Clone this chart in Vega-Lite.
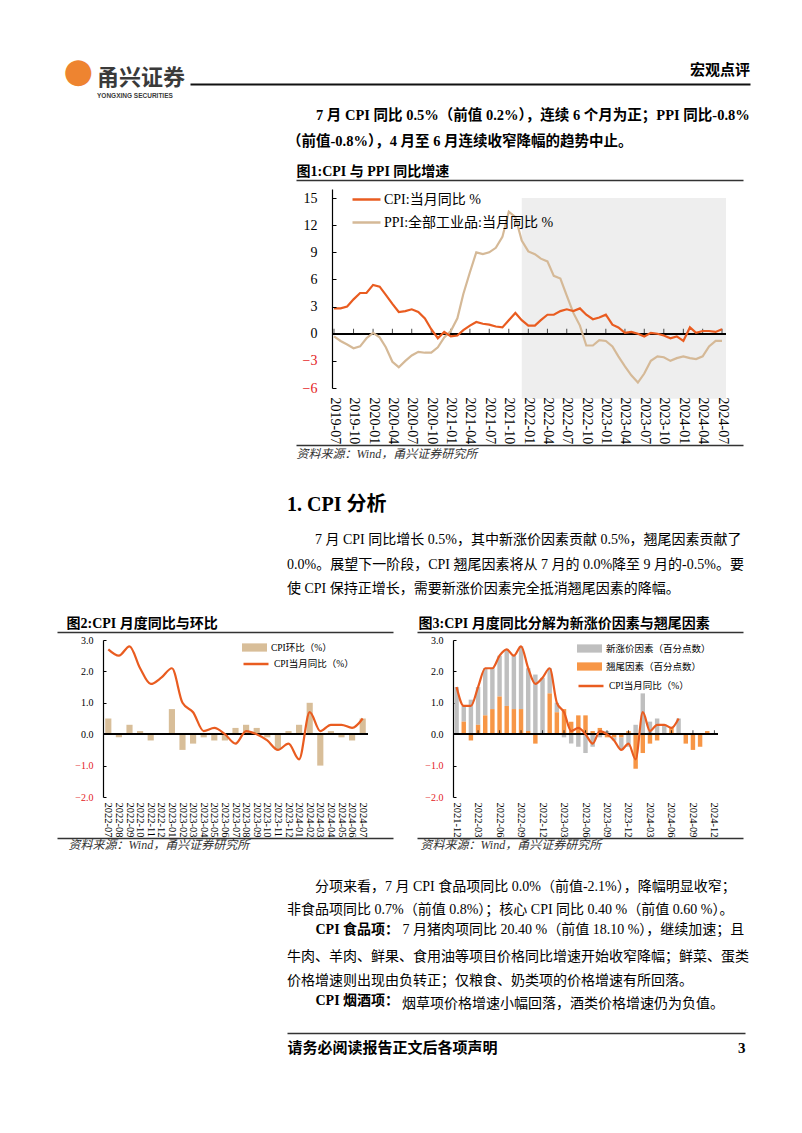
{
  "$schema": "https://vega.github.io/schema/vega-lite/v6.json",
  "background": "#ffffff",
  "padding": 0,
  "spacing": 0,
  "bounds": "flush",
  "resolve": {
    "scale": {"x": "independent", "y": "independent", "color": "independent", "fill": "independent", "stroke": "independent"},
    "legend": {"color": "independent", "fill": "independent", "stroke": "independent"}
  },
  "config": {
    "view": {"stroke": null},
    "title": {"orient": "bottom", "anchor": "start", "frame": "group", "offset": 0, "font": "Liberation Serif, Noto Sans CJK SC", "fontSize": 14, "fontWeight": "normal", "color": "#000000", "subtitleFont": "Liberation Serif, Noto Sans CJK SC", "subtitleColor": "#000000"},
    "axis": {"labelFont": "Liberation Serif", "titleFont": "Liberation Serif, Noto Sans CJK SC", "grid": false, "domainColor": "#000000", "tickColor": "#000000", "labelColor": "#000000", "titleColor": "#000000", "labelOverlap": false},
    "legend": {"labelFont": "Liberation Serif, Noto Sans CJK SC", "padding": 0, "labelLimit": 400, "labelColor": "#000000"}
  },
  "datasets": {
    "c1": [
      {"m":"2019-07","cpi":2.8,"ppi":-0.3},{"m":"2019-08","cpi":2.8,"ppi":-0.8},{"m":"2019-09","cpi":3.0,"ppi":-1.2},{"m":"2019-10","cpi":3.8,"ppi":-1.6},{"m":"2019-11","cpi":4.5,"ppi":-1.4},{"m":"2019-12","cpi":4.5,"ppi":-0.5},
      {"m":"2020-01","cpi":5.4,"ppi":0.1},{"m":"2020-02","cpi":5.2,"ppi":-0.4},{"m":"2020-03","cpi":4.3,"ppi":-1.5},{"m":"2020-04","cpi":3.3,"ppi":-3.1},{"m":"2020-05","cpi":2.4,"ppi":-3.7},{"m":"2020-06","cpi":2.5,"ppi":-3.0},
      {"m":"2020-07","cpi":2.7,"ppi":-2.4},{"m":"2020-08","cpi":2.4,"ppi":-2.0},{"m":"2020-09","cpi":1.7,"ppi":-2.1},{"m":"2020-10","cpi":0.5,"ppi":-2.1},{"m":"2020-11","cpi":-0.5,"ppi":-1.5},{"m":"2020-12","cpi":0.2,"ppi":-0.4},
      {"m":"2021-01","cpi":-0.3,"ppi":0.3},{"m":"2021-02","cpi":-0.2,"ppi":1.7},{"m":"2021-03","cpi":0.4,"ppi":4.4},{"m":"2021-04","cpi":0.9,"ppi":6.8},{"m":"2021-05","cpi":1.3,"ppi":9.0},{"m":"2021-06","cpi":1.1,"ppi":8.8},
      {"m":"2021-07","cpi":1.0,"ppi":9.0},{"m":"2021-08","cpi":0.8,"ppi":9.5},{"m":"2021-09","cpi":0.7,"ppi":10.7},{"m":"2021-10","cpi":1.5,"ppi":13.5},{"m":"2021-11","cpi":2.3,"ppi":12.9},{"m":"2021-12","cpi":1.5,"ppi":10.3},
      {"m":"2022-01","cpi":0.9,"ppi":9.1},{"m":"2022-02","cpi":0.9,"ppi":8.8},{"m":"2022-03","cpi":1.5,"ppi":8.3},{"m":"2022-04","cpi":2.1,"ppi":8.0},{"m":"2022-05","cpi":2.1,"ppi":6.4},{"m":"2022-06","cpi":2.5,"ppi":6.1},
      {"m":"2022-07","cpi":2.7,"ppi":4.2},{"m":"2022-08","cpi":2.5,"ppi":2.3},{"m":"2022-09","cpi":2.8,"ppi":0.9},{"m":"2022-10","cpi":2.1,"ppi":-1.3},{"m":"2022-11","cpi":1.6,"ppi":-1.3},{"m":"2022-12","cpi":1.8,"ppi":-0.7},
      {"m":"2023-01","cpi":2.1,"ppi":-0.8},{"m":"2023-02","cpi":1.0,"ppi":-1.4},{"m":"2023-03","cpi":0.7,"ppi":-2.5},{"m":"2023-04","cpi":0.1,"ppi":-3.6},{"m":"2023-05","cpi":0.2,"ppi":-4.6},{"m":"2023-06","cpi":0.0,"ppi":-5.4},
      {"m":"2023-07","cpi":-0.3,"ppi":-4.4},{"m":"2023-08","cpi":0.1,"ppi":-3.0},{"m":"2023-09","cpi":0.0,"ppi":-2.5},{"m":"2023-10","cpi":-0.2,"ppi":-2.6},{"m":"2023-11","cpi":-0.5,"ppi":-3.0},{"m":"2023-12","cpi":-0.3,"ppi":-2.7},
      {"m":"2024-01","cpi":-0.8,"ppi":-2.5},{"m":"2024-02","cpi":0.7,"ppi":-2.7},{"m":"2024-03","cpi":0.1,"ppi":-2.8},{"m":"2024-04","cpi":0.3,"ppi":-2.5},{"m":"2024-05","cpi":0.3,"ppi":-1.4},{"m":"2024-06","cpi":0.2,"ppi":-0.8},
      {"m":"2024-07","cpi":0.5,"ppi":-0.8}
    ],
    "c2": [
      {"m":"2022-07","mom":0.5,"yoy":2.7},{"m":"2022-08","mom":-0.1,"yoy":2.5},{"m":"2022-09","mom":0.3,"yoy":2.8},{"m":"2022-10","mom":0.1,"yoy":2.1},{"m":"2022-11","mom":-0.2,"yoy":1.6},{"m":"2022-12","mom":0.0,"yoy":1.8},
      {"m":"2023-01","mom":0.8,"yoy":2.1},{"m":"2023-02","mom":-0.5,"yoy":1.0},{"m":"2023-03","mom":-0.3,"yoy":0.7},{"m":"2023-04","mom":-0.1,"yoy":0.1},{"m":"2023-05","mom":-0.2,"yoy":0.2},{"m":"2023-06","mom":-0.2,"yoy":0.0},
      {"m":"2023-07","mom":0.2,"yoy":-0.3},{"m":"2023-08","mom":0.3,"yoy":0.1},{"m":"2023-09","mom":0.2,"yoy":0.0},{"m":"2023-10","mom":-0.1,"yoy":-0.2},{"m":"2023-11","mom":-0.5,"yoy":-0.5},{"m":"2023-12","mom":0.1,"yoy":-0.3},
      {"m":"2024-01","mom":0.3,"yoy":-0.8},{"m":"2024-02","mom":1.0,"yoy":0.7},{"m":"2024-03","mom":-1.0,"yoy":0.1},{"m":"2024-04","mom":0.1,"yoy":0.3},{"m":"2024-05","mom":-0.1,"yoy":0.3},{"m":"2024-06","mom":-0.2,"yoy":0.2},
      {"m":"2024-07","mom":0.5,"yoy":0.5}
    ],
    "c3": [
      {"m":"2021-12","new":1.5,"carry":0.0,"yoy":1.5},{"m":"2022-01","new":0.5,"carry":0.4,"yoy":0.9},{"m":"2022-02","new":1.1,"carry":-0.2,"yoy":0.9},{"m":"2022-03","new":1.2,"carry":0.3,"yoy":1.5},
      {"m":"2022-04","new":1.5,"carry":0.6,"yoy":2.1},{"m":"2022-05","new":1.3,"carry":0.8,"yoy":2.1},{"m":"2022-06","new":1.3,"carry":1.2,"yoy":2.5},{"m":"2022-07","new":1.8,"carry":0.9,"yoy":2.7},
      {"m":"2022-08","new":1.7,"carry":0.8,"yoy":2.5},{"m":"2022-09","new":2.0,"carry":0.8,"yoy":2.8},{"m":"2022-10","new":2.0,"carry":0.1,"yoy":2.1},{"m":"2022-11","new":1.9,"carry":-0.3,"yoy":1.6},
      {"m":"2022-12","new":1.8,"carry":0.0,"yoy":1.8},{"m":"2023-01","new":0.8,"carry":1.3,"yoy":2.1},{"m":"2023-02","new":0.3,"carry":0.7,"yoy":1.0},{"m":"2023-03","new":-0.1,"carry":0.8,"yoy":0.7},
      {"m":"2023-04","new":-0.3,"carry":0.4,"yoy":0.1},{"m":"2023-05","new":-0.4,"carry":0.6,"yoy":0.2},{"m":"2023-06","new":-0.6,"carry":0.6,"yoy":0.0},{"m":"2023-07","new":-0.4,"carry":0.1,"yoy":-0.3},
      {"m":"2023-08","new":-0.1,"carry":0.2,"yoy":0.1},{"m":"2023-09","new":0.1,"carry":-0.1,"yoy":0.0},{"m":"2023-10","new":-0.1,"carry":-0.1,"yoy":-0.2},{"m":"2023-11","new":-0.4,"carry":-0.1,"yoy":-0.5},
      {"m":"2023-12","new":-0.4,"carry":0.1,"yoy":-0.3},{"m":"2024-01","new":0.3,"carry":-1.1,"yoy":-0.8},{"m":"2024-02","new":1.3,"carry":-0.6,"yoy":0.7},{"m":"2024-03","new":0.4,"carry":-0.3,"yoy":0.1},
      {"m":"2024-04","new":0.5,"carry":-0.2,"yoy":0.3},{"m":"2024-05","new":0.3,"carry":0.0,"yoy":0.3},{"m":"2024-06","new":0.0,"carry":0.2,"yoy":0.2},{"m":"2024-07","new":0.5,"carry":0.0,"yoy":0.5},
      {"m":"2024-08","new":null,"carry":-0.3,"yoy":null},{"m":"2024-09","new":null,"carry":-0.5,"yoy":null},{"m":"2024-10","new":null,"carry":-0.4,"yoy":null},{"m":"2024-11","new":null,"carry":0.1,"yoy":null},
      {"m":"2024-12","new":null,"carry":null,"yoy":null}
    ]
  },
  "vconcat": [
    {"width": 802, "height": 84, "data": {"values": []}, "mark": "point",
     "title": {"text": "宏观点评", "anchor": "end", "dx": -52, "dy": -25, "fontSize": 15, "fontWeight": "bold", "font": "Noto Sans CJK SC"}},
    {"width": 802, "height": 2, "data": {"values": []}, "mark": "point",
     "encoding": {"x": {"field": "v", "type": "quantitative", "scale": {"domain": [0, 1], "range": [190, 750]},
       "axis": {"orient": "top", "domain": true, "domainColor": "#111111", "domainWidth": 2, "ticks": false, "labels": false,
                "title": "●", "titleX": 63, "titleY": -30, "titleAlign": "left", "titleBaseline": "top", "titleFont": "DejaVu Sans", "titleFontSize": 34, "titleFontWeight": "normal", "titleColor": "#EE8430"}}},
     "title": {"text": "甬兴证券", "subtitle": "YONGXING SECURITIES", "dx": 97, "dy": -24, "fontSize": 22, "fontWeight": "bold", "font": "Noto Sans CJK SC", "color": "#3a3a3a", "subtitleFont": "Liberation Sans", "subtitleFontSize": 6.5, "subtitleFontWeight": "bold", "subtitleColor": "#3a3a3a", "subtitlePadding": 3}},
    {"width": 802, "height": 94, "data": {"values": []}, "mark": "point",
     "encoding": {"x": {"field": "v", "type": "quantitative", "scale": {"domain": [0, 1], "range": [296, 743]},
       "axis": {"orient": "bottom", "domain": true, "domainColor": "#333333", "domainWidth": 1.5, "ticks": false, "labels": false,
                "title": "图1:CPI 与 PPI 同比增速", "titleX": 296, "titleY": -15.5, "titleAlign": "left", "titleBaseline": "top", "titleFontSize": 14, "titleFontWeight": "bold"}}},
     "title": {"text": ["\u200b　　7 月 CPI 同比 0.5%（前值 0.2%），连续 6 个月为正；PPI 同比-0.8%", "（前值-0.8%），4 月至 6 月连续收窄降幅的趋势中止。"], "dx": 287, "dy": -75, "fontSize": 14.5, "fontWeight": "bold", "lineHeight": 26}},
    {"width": 802, "height": 9, "data": {"values": []}, "mark": "point"},
    {"hconcat": [
      {"width": 332, "height": 199, "data": {"values": []}, "mark": "point"},
      {"width": 394, "height": 199,
       "data": {"name": "c1"},
       "layer": [
         {"data": {"values": [{"s": "2021-12-01", "e": "2024-07-20"}]},
          "mark": {"type": "rect", "color": "#EEEEEE"},
          "encoding": {
            "x": {"field": "s", "type": "temporal", "scale": {"type": "utc", "domain": [{"year": 2019, "month": 7, "date": 1, "utc": true}, {"year": 2024, "month": 7, "date": 1, "utc": true}], "range": [2, 390]}},
            "x2": {"field": "e"},
            "y": {"datum": 15, "type": "quantitative", "scale": {"domain": [-6, 15]}},
            "y2": {"datum": -7.2}
          }},
         {"mark": {"type": "rule", "color": "#000000", "strokeWidth": 1.2},
          "encoding": {"y": {"datum": 0, "type": "quantitative"}}},
         {"transform": [{"filter": "utcmonth(datum.m) % 3 == 0"}],
          "mark": {"type": "tick", "orient": "vertical", "size": 5, "thickness": 1, "color": "#000000", "yOffset": -2.5},
          "encoding": {"x": {"field": "m", "type": "temporal"}, "y": {"datum": 0, "type": "quantitative"}}},
         {"mark": {"type": "line", "strokeWidth": 2.2},
          "encoding": {
            "x": {"field": "m", "type": "temporal",
                  "axis": {"values": [
                    {"year": 2019, "month": 7, "date": 1, "utc": true}, {"year": 2019, "month": 10, "date": 1, "utc": true},
                    {"year": 2020, "month": 1, "date": 1, "utc": true}, {"year": 2020, "month": 4, "date": 1, "utc": true}, {"year": 2020, "month": 7, "date": 1, "utc": true}, {"year": 2020, "month": 10, "date": 1, "utc": true},
                    {"year": 2021, "month": 1, "date": 1, "utc": true}, {"year": 2021, "month": 4, "date": 1, "utc": true}, {"year": 2021, "month": 7, "date": 1, "utc": true}, {"year": 2021, "month": 10, "date": 1, "utc": true},
                    {"year": 2022, "month": 1, "date": 1, "utc": true}, {"year": 2022, "month": 4, "date": 1, "utc": true}, {"year": 2022, "month": 7, "date": 1, "utc": true}, {"year": 2022, "month": 10, "date": 1, "utc": true},
                    {"year": 2023, "month": 1, "date": 1, "utc": true}, {"year": 2023, "month": 4, "date": 1, "utc": true}, {"year": 2023, "month": 7, "date": 1, "utc": true}, {"year": 2023, "month": 10, "date": 1, "utc": true},
                    {"year": 2024, "month": 1, "date": 1, "utc": true}, {"year": 2024, "month": 4, "date": 1, "utc": true}, {"year": 2024, "month": 7, "date": 1, "utc": true}],
                    "tickCount": 100, "format": "%Y-%m", "labelAngle": 90, "labelFontSize": 14, "labelPadding": 9, "domain": false, "ticks": false, "title": null, "zindex": 1, "labelOverlap": false, "labelFlush": false, "labelBound": false}},
            "y": {"field": "ppi", "type": "quantitative",
                  "axis": {"values": [-6, -3, 0, 3, 6, 9, 12, 15], "tickCount": 100, "format": "d", "title": null, "labelFontSize": 14, "tickSize": -4, "labelPadding": 19, "domainWidth": 1.2, "zindex": 1, "labelOverlap": false,
                           "labelColor": {"condition": {"test": "datum.value < 0", "value": "#E31A1C"}, "value": "#000000"}}},
            "color": {"datum": "PPI:全部工业品:当月同比 %",
                      "scale": {"domain": ["CPI:当月同比 %", "PPI:全部工业品:当月同比 %"], "range": ["#E95C20", "#D5B997"]},
                      "legend": {"orient": "none", "legendX": 19, "legendY": -5, "title": null, "symbolType": "stroke", "symbolSize": 784, "symbolStrokeWidth": 2.5, "labelFontSize": 14, "rowPadding": 0, "labelOffset": 2}}
          }},
         {"mark": {"type": "line", "strokeWidth": 2.2},
          "encoding": {
            "x": {"field": "m", "type": "temporal"},
            "y": {"field": "cpi", "type": "quantitative"},
            "color": {"datum": "CPI:当月同比 %"}
          }}
       ]}
    ], "spacing": 0, "bounds": "flush",
     "resolve": {"scale": {"x": "independent", "y": "independent", "color": "independent"}, "legend": {"color": "independent"}}},
    {"width": 802, "height": 256, "data": {"values": []}, "mark": "point",
     "encoding": {"x": {"field": "v", "type": "quantitative", "scale": {"domain": [0, 1], "range": [296, 743]},
       "axis": {"orient": "bottom", "domain": true, "domainColor": "#333333", "domainWidth": 1.5, "ticks": false, "labels": false,
                "title": "资料来源：Wind，甬兴证券研究所", "titleX": 296, "titleY": 3, "titleAlign": "left", "titleBaseline": "top", "titleFontSize": 12, "titleFontWeight": "normal", "titleFontStyle": "italic", "titleColor": "#333333"}}}},
    {"width": 802, "height": 187, "data": {"values": []}, "mark": "point",
     "encoding": {"x": {"field": "v", "type": "quantitative", "scale": {"domain": [0, 1], "range": [57, 393]},
       "axis": {"orient": "bottom", "domain": true, "domainColor": "#333333", "domainWidth": 1.5, "ticks": false, "labels": false,
                "title": "图2:CPI 月度同比与环比", "titleX": 66, "titleY": -16, "titleAlign": "left", "titleBaseline": "top", "titleFontSize": 14, "titleFontWeight": "bold"}}},
     "title": {"text": "1. CPI 分析", "dx": 287, "dy": -141, "fontSize": 20, "fontWeight": "bold",
               "subtitle": ["\u200b　　7 月 CPI 同比增长 0.5%，其中新涨价因素贡献 0.5%，翘尾因素贡献了", "0.0%。展望下一阶段，CPI 翘尾因素将从 7 月的 0.0%降至 9 月的-0.5%。要", "使 CPI 保持正增长，需要新涨价因素完全抵消翘尾因素的降幅。"],
               "subtitleFontSize": 14, "subtitleLineHeight": 24.5, "subtitlePadding": 18}},
    {"width": 802, "height": 8, "data": {"values": []}, "mark": "point",
     "encoding": {"x": {"field": "v", "type": "quantitative", "scale": {"domain": [0, 1], "range": [417, 743]},
       "axis": {"orient": "top", "domain": true, "domainColor": "#333333", "domainWidth": 1.5, "ticks": false, "labels": false,
                "title": "图3:CPI 月度同比分解为新涨价因素与翘尾因素", "titleX": 418, "titleY": -16, "titleAlign": "left", "titleBaseline": "top", "titleFontSize": 14, "titleFontWeight": "bold"}}}},
    {"hconcat": [
      {"width": 103, "height": 157, "data": {"values": []}, "mark": "point"},
      {"width": 265, "height": 157,
       "data": {"name": "c2"},
       "layer": [
         {"mark": {"type": "bar"},
          "encoding": {
            "x": {"field": "m", "type": "ordinal", "scale": {"paddingInner": 0.42, "paddingOuter": 0.21},
                  "axis": {"labelAngle": 90, "labelFontSize": 10.5, "labelPadding": 5, "domain": false, "ticks": false, "title": null, "labelOverlap": false}},
            "y": {"field": "mom", "type": "quantitative", "scale": {"domain": [-2, 3]},
                  "axis": {"values": [-2, -1, 0, 1, 2, 3], "tickCount": 100, "format": ".1f", "title": null, "labelFontSize": 10, "tickSize": -3, "labelPadding": 13, "domainWidth": 1.2, "labelOverlap": false,
                           "labelColor": {"condition": {"test": "datum.value < 0", "value": "#E31A1C"}, "value": "#000000"}}},
            "fill": {"datum": "CPI环比（%）", "scale": {"range": ["#D8BE99"]},
                     "legend": {"orient": "none", "legendX": 139, "legendY": -5, "title": null, "symbolType": "M-1,-0.33H1V0.33H-1Z", "symbolSize": 625, "symbolStrokeWidth": 0, "labelFontSize": 9.5, "labelOffset": 4}}
          }},
         {"mark": {"type": "rule", "color": "#000000", "strokeWidth": 1.3},
          "encoding": {"y": {"datum": 0, "type": "quantitative"}}},
         {"mark": {"type": "line", "interpolate": "monotone", "strokeWidth": 2.2},
          "encoding": {
            "x": {"field": "m", "type": "ordinal"},
            "y": {"field": "yoy", "type": "quantitative"},
            "stroke": {"datum": "CPI当月同比（%）", "scale": {"range": ["#E95C20"]},
                       "legend": {"orient": "none", "legendX": 139, "legendY": 10, "title": null, "symbolType": "stroke", "symbolSize": 625, "symbolStrokeWidth": 2.5, "labelFontSize": 9.5, "labelOffset": 4}}
          }}
       ]},
      {"width": 85, "height": 157, "data": {"values": []}, "mark": "point"},
      {"width": 265, "height": 157,
       "data": {"name": "c3"},
       "layer": [
         {"transform": [{"fold": ["new", "carry"], "as": ["s", "v"]}],
          "mark": {"type": "bar"},
          "encoding": {
            "x": {"field": "m", "type": "ordinal",
                  "scale": {"domain": ["2021-12","2022-01","2022-02","2022-03","2022-04","2022-05","2022-06","2022-07","2022-08","2022-09","2022-10","2022-11","2022-12","2023-01","2023-02","2023-03","2023-04","2023-05","2023-06","2023-07","2023-08","2023-09","2023-10","2023-11","2023-12","2024-01","2024-02","2024-03","2024-04","2024-05","2024-06","2024-07","2024-08","2024-09","2024-10","2024-11","2024-12"], "paddingInner": 0.38, "paddingOuter": 0.19},
                  "axis": {"values": ["2021-12","2022-03","2022-06","2022-09","2022-12","2023-03","2023-06","2023-09","2023-12","2024-03","2024-06","2024-09","2024-12"], "labelAngle": 90, "labelFontSize": 10.5, "labelPadding": 5, "domain": false, "ticks": false, "title": null, "labelOverlap": false}},
            "y": {"field": "v", "type": "quantitative", "stack": "zero", "scale": {"domain": [-2, 3]},
                  "axis": {"values": [-2, -1, 0, 1, 2, 3], "tickCount": 100, "format": ".1f", "title": null, "labelFontSize": 10, "tickSize": -3, "labelPadding": 13, "domainWidth": 1.2, "labelOverlap": false,
                           "labelColor": {"condition": {"test": "datum.value < 0", "value": "#E31A1C"}, "value": "#000000"}}},
            "order": {"field": "s", "sort": "ascending"},
            "fill": {"field": "s", "type": "nominal", "scale": {"domain": ["new", "carry"], "range": ["#BFBFBF", "#F79646"]},
                     "legend": {"orient": "none", "legendX": 124, "legendY": -4, "title": null, "symbolType": "M-1,-0.33H1V0.33H-1Z", "symbolSize": 625, "symbolStrokeWidth": 0, "labelFontSize": 9.5, "labelOffset": 4, "rowPadding": 1,
                                "labelExpr": "datum.label == 'new' ? '新涨价因素（百分点数）' : '翘尾因素（百分点数）'"}}
          }},
         {"mark": {"type": "rule", "color": "#000000", "strokeWidth": 1.3},
          "encoding": {"y": {"datum": 0, "type": "quantitative"}}},
         {"transform": [{"filter": {"field": "m", "oneOf": ["2022-03","2022-06","2022-09","2022-12","2023-03","2023-06","2023-09","2023-12","2024-03","2024-06","2024-09","2024-12"]}}],
          "mark": {"type": "tick", "orient": "vertical", "size": 4, "thickness": 1, "color": "#000000", "yOffset": -2},
          "encoding": {"x": {"field": "m", "type": "ordinal"}, "y": {"datum": 0, "type": "quantitative"}}},
         {"mark": {"type": "line", "interpolate": "monotone", "strokeWidth": 2.2},
          "encoding": {
            "x": {"field": "m", "type": "ordinal"},
            "y": {"field": "yoy", "type": "quantitative"},
            "stroke": {"datum": "CPI当月同比（%）", "scale": {"range": ["#E95C20"]},
                       "legend": {"orient": "none", "legendX": 124, "legendY": 32, "title": null, "symbolType": "stroke", "symbolSize": 625, "symbolStrokeWidth": 2.5, "labelFontSize": 9.5, "labelOffset": 4}}
          }}
       ]}
    ], "spacing": 0, "bounds": "flush",
     "resolve": {"scale": {"x": "independent", "y": "independent", "fill": "independent", "stroke": "independent"}, "legend": {"fill": "independent", "stroke": "independent"}}},
    {"width": 802, "height": 198, "data": {"values": []}, "mark": "point",
     "encoding": {"x": {"field": "v", "type": "quantitative", "scale": {"domain": [0, 1], "range": [57, 393]},
       "axis": {"orient": "bottom", "domain": true, "domainColor": "#333333", "domainWidth": 1.5, "ticks": false, "labels": false,
                "title": "资料来源：Wind，甬兴证券研究所", "titleX": 68, "titleY": 1.5, "titleAlign": "left", "titleBaseline": "top", "titleFontSize": 12, "titleFontWeight": "normal", "titleFontStyle": "italic", "titleColor": "#333333"}}}},
    {"width": 802, "height": 82, "data": {"values": []}, "mark": "point",
     "encoding": {"x": {"field": "v", "type": "quantitative", "scale": {"domain": [0, 1], "range": [417, 743]},
       "axis": {"orient": "top", "domain": true, "domainColor": "#333333", "domainWidth": 1.5, "ticks": false, "labels": false,
                "title": "资料来源：Wind，甬兴证券研究所", "titleX": 420, "titleY": 1.5, "titleAlign": "left", "titleBaseline": "top", "titleFontSize": 12, "titleFontWeight": "normal", "titleFontStyle": "italic", "titleColor": "#333333"}}},
     "title": {"text": ["\u200b　　分项来看，7 月 CPI 食品项同比 0.0%（前值-2.1%），降幅明显收窄；", "非食品项同比 0.7%（前值 0.8%）；核心 CPI 同比 0.40 %（前值 0.60 %）。"], "dx": 287, "dy": -44.3, "lineHeight": 23.5}},
    {"width": 802, "height": 70, "data": {"values": []}, "mark": "point",
     "encoding": {
       "y": {"field": "w", "type": "quantitative", "scale": {"domain": [0, 1]},
         "axis": {"orient": "left", "domain": false, "ticks": false, "labels": false,
                  "title": "CPI 食品项：", "titleX": 315, "titleY": 2.7, "titleAngle": 0, "titleAlign": "left", "titleBaseline": "top", "titleFontSize": 14, "titleFontWeight": "bold"}},
       "x": {"field": "v", "type": "quantitative", "scale": {"domain": [0, 1]},
         "axis": {"orient": "bottom", "domain": false, "ticks": false, "labels": false,
                  "title": "7 月猪肉项同比 20.40 %（前值 18.10 %），继续加速；且", "titleX": 402, "titleY": -67.3, "titleAlign": "left", "titleBaseline": "top", "titleFontSize": 14, "titleFontWeight": "normal"}}},
     "title": {"text": ["牛肉、羊肉、鲜果、食用油等项目价格同比增速开始收窄降幅；鲜菜、蛋类", "价格增速则出现由负转正；仅粮食、奶类项的价格增速有所回落。"], "dx": 287, "dy": -43.8, "lineHeight": 23.5}},
    {"width": 802, "height": 43, "data": {"values": []}, "mark": "point",
     "encoding": {
       "y": {"field": "w", "type": "quantitative", "scale": {"domain": [0, 1]},
         "axis": {"orient": "left", "domain": false, "ticks": false, "labels": false,
                  "title": "CPI 烟酒项：", "titleX": 315, "titleY": 3.2, "titleAngle": 0, "titleAlign": "left", "titleBaseline": "top", "titleFontSize": 14, "titleFontWeight": "bold"}}},
     "title": {"text": "烟草项价格增速小幅回落，酒类价格增速仍为负值。", "dx": 402, "dy": -39.8}},
    {"width": 802, "height": 1, "data": {"values": []}, "mark": "point",
     "encoding": {
       "x": {"field": "v", "type": "quantitative", "scale": {"domain": [0, 1], "range": [287, 745]},
         "axis": {"orient": "top", "domain": true, "domainColor": "#333333", "domainWidth": 1.5, "ticks": false, "labels": false,
                  "title": "请务必阅读报告正文后各项声明", "titleX": 287, "titleY": 7, "titleAlign": "left", "titleBaseline": "top", "titleFontSize": 15, "titleFontWeight": "bold"}},
       "y": {"field": "w", "type": "quantitative", "scale": {"domain": [0, 1]},
         "axis": {"orient": "left", "domain": false, "ticks": false, "labels": false,
                  "title": "3", "titleX": 745, "titleY": 7, "titleAngle": 0, "titleAlign": "right", "titleBaseline": "top", "titleFontSize": 15, "titleFontWeight": "bold"}}}}
  ]
}
